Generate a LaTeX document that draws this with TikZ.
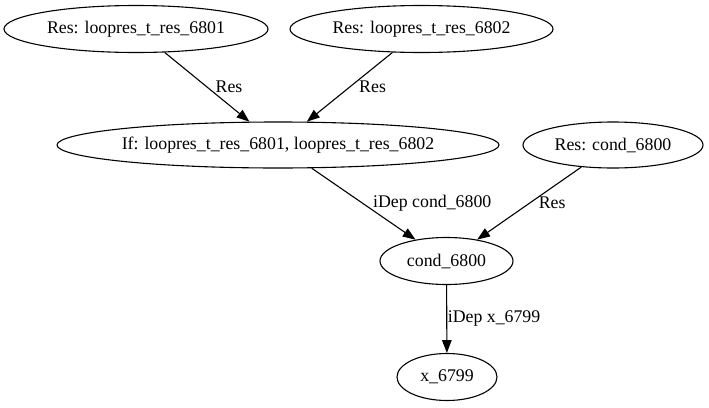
\documentclass[tikz,border=0pt]{standalone}
\usepackage{fontspec}
\setmainfont{Liberation Serif}
\usepackage{tikz}
\usetikzlibrary{positioning,shapes.geometric,arrows.meta}

\begin{document}
\begin{tikzpicture}[x=1pt, y=-1pt,
        font=\fontsize{17.8}{20}\selectfont,
        ellnode/.style={ellipse, draw=black, line width=1.1pt, inner sep=0pt, minimum height=47pt},
        edgelabel/.style={inner sep=0pt, anchor=west},
        depedge/.style={line width=1.1pt, -{Triangle[length=12.8pt,width=9.5pt]}}]

        \useasboundingbox (0,0) rectangle (709,407);

        \node[ellnode, minimum width=264pt] (1) at (136,29) {Res: loopres\_t\_res\_6801};
        \node[ellnode, minimum width=263pt] (2) at (421.5,29) {Res: loopres\_t\_res\_6802};
        \node[ellnode, minimum width=442pt, minimum height=46pt] (3) at (278,145) {If: loopres\_t\_res\_6801, loopres\_t\_res\_6802};
        \node[ellnode, minimum width=180pt, minimum height=46pt] (4) at (613,145) {Res: cond\_6800};
        \node[ellnode, minimum width=133pt] (5) at (446.5,261) {cond\_6800};
        \node[ellnode, minimum width=100pt] (6) at (447,377) {x\_6799};

        \draw[depedge] (1) -- node[edgelabel, pos=0.5, xshift=8pt] {Res} (3);
        \draw[depedge] (2) -- node[edgelabel, pos=0.5, xshift=9pt] {Res} (3);
        \draw[depedge] (3) -- node[edgelabel, pos=0.49, xshift=10pt] {iDep cond\_6800} (5);
        \draw[depedge] (4) -- node[edgelabel, pos=0.49, xshift=8pt] {Res} (5);
        \draw[depedge] (5) -- node[edgelabel, pos=0.49, xshift=0.5pt] {iDep x\_6799} (6);

\end{tikzpicture}
\end{document}
